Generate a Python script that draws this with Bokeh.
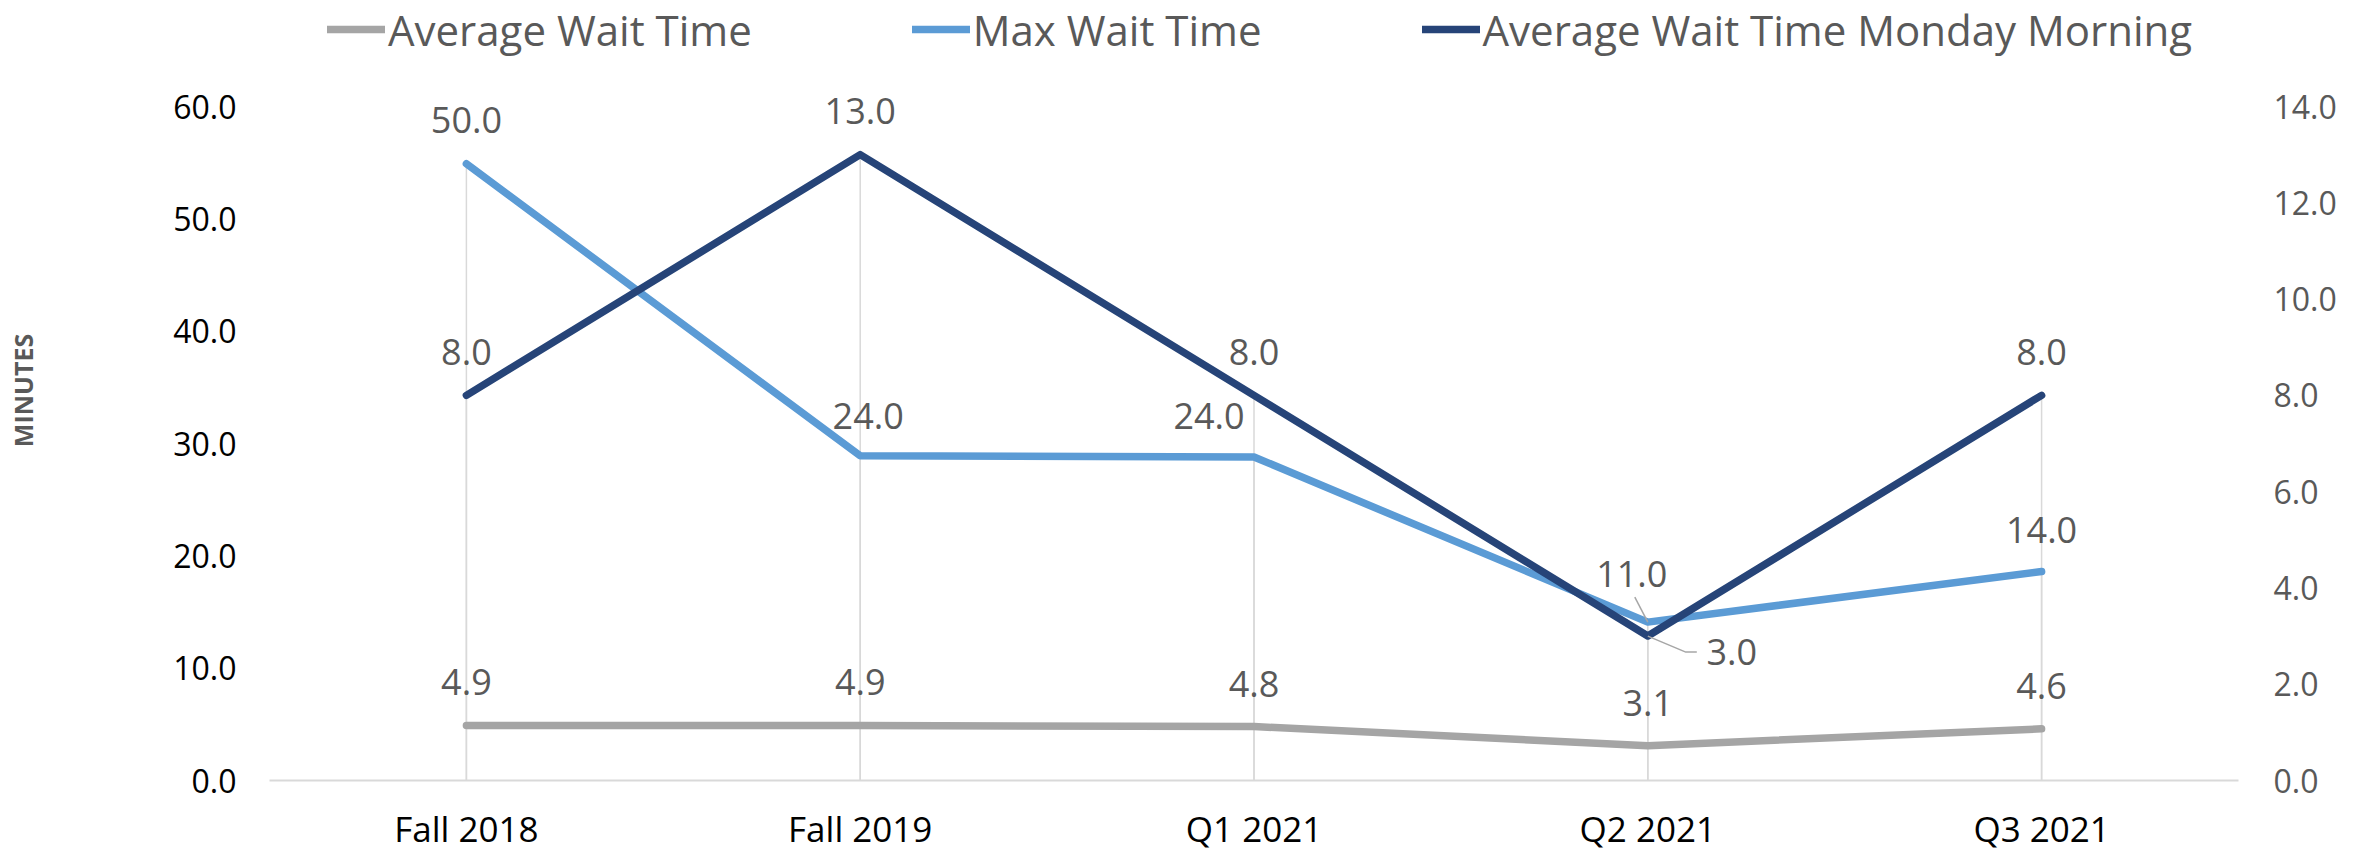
from bokeh.plotting import figure
from bokeh.models import (Range1d, LinearAxis, FixedTicker, NumeralTickFormatter,
                          Legend, LegendItem, ColumnDataSource)
from bokeh.core.properties import value
from bokeh.embed import file_html
from bokeh.resources import INLINE

# ---------------- data ----------------
categories = ["Fall 2018", "Fall 2019", "Q1 2021", "Q2 2021", "Q3 2021"]
avg_wait = [4.9, 4.9, 4.8, 3.1, 4.6]
max_wait = [50.0, 24.0, 24.0, 11.0, 14.0]          # stacked on top of avg_wait
monday_wait = [8.0, 13.0, 8.0, 3.0, 8.0]          # secondary axis
left_ticks = [0, 10, 20, 30, 40, 50, 60]
right_ticks = [0, 2, 4, 6, 8, 10, 12, 14]
left_max = 60.0
right_max = 14.0

# ---------------- layout (pixels) ----------------
W, H = 2369, 853
FRAME_L, FRAME_R = 269, 2238
ZERO_Y, TOP_Y = 780, 106
px_per = (ZERO_Y - TOP_Y) / left_max
y_end = ZERO_Y / px_per
r_scale = right_max / left_max
px_per_r = (ZERO_Y - TOP_Y) / right_max
px_per_x = (FRAME_R - FRAME_L) / 5.0

FONT = "Open Sans"
LABEL_GRAY = "#595959"
C_AVG, C_MAX, C_MON = "#A5A5A5", "#5B9BD5", "#264478"

idx = list(range(len(categories)))
max_stacked = [a + m for a, m in zip(avg_wait, max_wait)]

p = figure(frame_width=FRAME_R - FRAME_L, frame_height=ZERO_Y,
           x_range=Range1d(-0.5, 4.5), y_range=Range1d(0, y_end),
           toolbar_location=None, output_backend="svg", title=None,
           min_border_left=FRAME_L, min_border_right=W - FRAME_R,
           min_border_top=0, min_border_bottom=H - ZERO_Y)
p.outline_line_color = None
p.background_fill_color = "white"
p.border_fill_color = "white"
p.xgrid.grid_line_color = None
p.ygrid.grid_line_color = None

p.extra_y_ranges = {"right": Range1d(0, y_end * r_scale)}

# category axis
xa = p.xaxis[0]
xa.ticker = FixedTicker(ticks=idx)
xa.major_label_overrides = {i: c for i, c in zip(idx, categories)}
xa.axis_line_color = "#D9D9D9"
xa.axis_line_width = 2
xa.major_tick_line_color = None
xa.minor_tick_line_color = None
xa.major_tick_out = 0
xa.major_tick_in = 0
xa.major_label_text_font = FONT
xa.major_label_text_font_size = "35px"
xa.major_label_text_color = "#000000"
xa.major_label_standoff = 24

# left axis
ly = p.yaxis[0]
ly.ticker = FixedTicker(ticks=left_ticks)
ly.formatter = NumeralTickFormatter(format="0.0")
ly.axis_line_color = None
ly.major_tick_line_color = None
ly.minor_tick_line_color = None
ly.major_tick_out = 0
ly.major_tick_in = 0
ly.major_label_text_font = FONT
ly.major_label_text_font_size = "32px"
ly.major_label_text_color = "#000000"
ly.major_label_standoff = 33
ly.axis_label = "MINUTES"
ly.axis_label_text_font = FONT
ly.axis_label_text_font_style = "bold"
ly.axis_label_text_font_size = "25px"
ly.axis_label_text_color = LABEL_GRAY
ly.axis_label_standoff = 130

# right axis
ry = LinearAxis(y_range_name="right", ticker=FixedTicker(ticks=right_ticks),
                formatter=NumeralTickFormatter(format="0.0"))
ry.axis_line_color = None
ry.major_tick_line_color = None
ry.minor_tick_line_color = None
ry.major_tick_out = 0
ry.major_tick_in = 0
ry.major_label_text_font = FONT
ry.major_label_text_font_size = "32px"
ry.major_label_text_color = LABEL_GRAY
ry.major_label_standoff = 35
p.add_layout(ry, "right")

# drop lines
p.segment(x0=idx, y0=[0] * 5, x1=idx, y1=max_stacked, line_color="#D9D9D9", line_width=1.5)
p.segment(x0=idx, y0=[0] * 5, x1=idx, y1=monday_wait, line_color="#D9D9D9", line_width=1.5,
          y_range_name="right")

# series lines
r_avg = p.line(idx, avg_wait, line_color=C_AVG, line_width=7.5, line_cap="round", line_join="round")
r_max = p.line(idx, max_stacked, line_color=C_MAX, line_width=7.5, line_cap="round", line_join="round")
r_mon = p.line(idx, monday_wait, line_color=C_MON, line_width=7.5, line_cap="round", line_join="round",
               y_range_name="right")

# leader lines for the two moved labels at Q2 2021
q2 = 3
p.line([q2, q2 - 13 / px_per_x], [max_stacked[q2], max_stacked[q2] + 25 / px_per],
       line_color="#A6A6A6", line_width=1.5)
p.line([q2, q2 + 38 / px_per_x, q2 + 49 / px_per_x],
       [monday_wait[q2], monday_wait[q2] - 16 / px_per_r, monday_wait[q2] - 16 / px_per_r],
       line_color="#A6A6A6", line_width=1.5, y_range_name="right")

# data labels (offsets in screen px, y down)
avg_dx = [0, 0, 0, 0, 0]
avg_dy = [-43, -43, -43, -43, -43]
max_dx = [0, 8, -45, -16, 0]
max_dy = [-44, -40, -41, -48, -42]
mon_dx = [0, 0, 0, 84, 0]
mon_dy = [-43, -44, -43, 16, -43]


def add_labels(xs, ys, vals, dxs, dys, rng=None):
    src = ColumnDataSource(dict(x=xs, y=ys, t=[f"{v:.1f}" for v in vals], dx=dxs, dy=dys))
    kw = {} if rng is None else {"y_range_name": rng}
    p.text(x="x", y="y", text="t", x_offset="dx", y_offset="dy", source=src,
           text_align="center", text_baseline="middle", text_font=value(FONT),
           text_font_size="36px", text_color=LABEL_GRAY, **kw)


add_labels(idx, avg_wait, avg_wait, avg_dx, avg_dy)
add_labels(idx, max_stacked, max_wait, max_dx, max_dy)
add_labels(idx, monday_wait, monday_wait, mon_dx, mon_dy, "right")

legend = Legend(items=[LegendItem(label="Average Wait Time", renderers=[r_avg]),
                       LegendItem(label="Max Wait Time", renderers=[r_max]),
                       LegendItem(label="Average Wait Time Monday Morning", renderers=[r_mon])],
                orientation="horizontal", location=(58, ZERO_Y - 58), padding=0, margin=0,
                border_line_color=None, background_fill_alpha=0,
                glyph_width=58, glyph_height=58, label_height=58, label_standoff=3,
                spacing=160, label_text_font=FONT, label_text_font_size="42px",
                label_text_color=LABEL_GRAY)
p.add_layout(legend)

open("out.html", "w").write(file_html(p, INLINE))
